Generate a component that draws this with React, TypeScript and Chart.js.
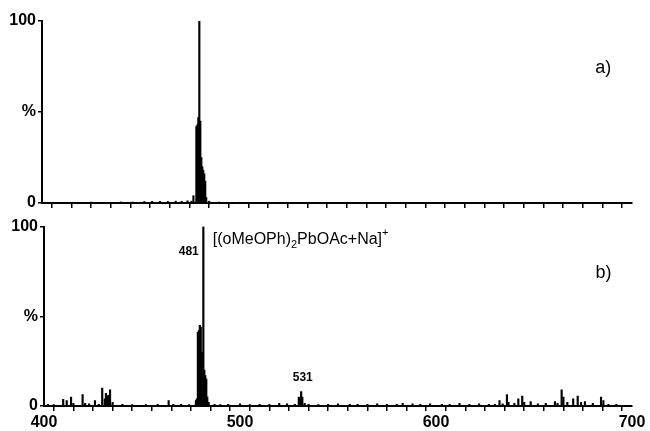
import React, { useEffect, useRef } from "react";
import Chart from "chart.js/auto";

// ---- data (m/z, relative intensity %) ----
const topMz = [410, 418, 425, 432, 440, 446, 452, 456, 460, 464, 468, 471, 474, 476, 477, 478.5, 479, 479.5, 480, 480.5, 481, 481.5, 482, 482.5, 483, 483.5, 485, 490, 500, 520, 540];
const topInt = [0.4, 0.4, 0.5, 0.4, 0.6, 0.5, 0.8, 0.9, 0.9, 0.8, 1.0, 0.9, 1.2, 1.0, 4, 42, 43, 47, 100, 45, 25, 20, 18, 16, 12, 3, 1, 0.5, 0.4, 0.4, 0.4];

const botMz = [402, 405, 409.8, 411.6, 413.8, 415, 419.7, 421, 423, 426, 428, 429.7, 431, 431.6, 432.2, 432.8, 433.7, 435, 440, 445, 452, 458, 463.6, 466, 470, 474, 477.5, 478, 478.5, 479, 479.5, 480, 480.5, 481.3, 481.8, 482.3, 482.8, 483.3, 484, 487, 490, 494, 500, 505, 510, 515, 520, 524, 528, 530, 530.5, 531.2, 531.8, 533, 535, 540, 545, 550, 556, 560, 565, 570, 575, 580, 583, 588, 592, 597, 603, 607, 612, 617, 622, 627, 630, 632.4, 634, 636.2, 637, 640, 642, 644, 645, 648.3, 652, 656, 660.7, 662, 664.1, 665, 667, 670, 672.3, 674, 676, 680, 684.2, 685.4, 688, 692];
const botInt = [1, 0.8, 3.7, 3, 5, 1.5, 6.4, 1.5, 1.2, 3, 1, 10, 4, 7, 5, 6, 9, 2, 1, 0.8, 0.8, 1, 3, 1, 1, 0.8, 3, 4, 41, 42, 45, 44, 30, 100, 20, 17, 15, 5, 2, 1, 0.8, 1, 1.2, 0.8, 1, 1, 1.5, 1.2, 1, 5, 4, 8, 5, 1.5, 1, 0.8, 1, 1.2, 1, 1, 1, 1.2, 1, 1, 1.5, 1.2, 1, 1.2, 1, 1, 1.5, 1, 1.2, 1, 1, 3, 1.2, 6.4, 2, 1.5, 4, 5.5, 2, 2.5, 1.2, 1.5, 2.5, 1.5, 9, 5, 2, 4, 5.5, 2, 2.5, 1.5, 5, 3, 1, 1];

const xTickLabels = [400, 500, 600, 700];
const yTickLabels: Record<number, string> = { 0: "0", 50: "%", 100: "100" };

const FONT = "'Liberation Sans', Arial, sans-serif";

type Note = { text: string; mz: number; pct: number; align: CanvasTextAlign; size: number; bold: boolean; dx: number };

function makeChart(
  canvas: HTMLCanvasElement,
  mz: number[],
  intensity: number[],
  opts: { yWidth: number; padTop: number; xHeight: number; showXLabels: boolean; notes: Note[]; formula: boolean }
) {
  const notesPlugin = {
    id: "notes",
    afterDraw(chart: any) {
      const ctx = chart.ctx as CanvasRenderingContext2D;
      const xs = chart.scales.x;
      const ys = chart.scales.y;
      ctx.save();
      ctx.fillStyle = "#000";
      ctx.textBaseline = "middle";
      for (const n of opts.notes) {
        ctx.font = `${n.bold ? "bold " : ""}${n.size}px ${FONT}`;
        ctx.textAlign = n.align;
        ctx.fillText(n.text, xs.getPixelForValue(n.mz) + n.dx, ys.getPixelForValue(n.pct));
      }
      if (opts.formula) {
        // [(oMeOPh)2PbOAc+Na]+ with subscript 2 and superscript +
        let x = xs.getPixelForValue(481) + 10;
        const y = ys.getPixelForValue(93);
        ctx.textAlign = "left";
        const main = `16px ${FONT}`;
        const small = `11px ${FONT}`;
        const parts: [string, string, number][] = [
          ["[(oMeOPh)", main, 0],
          ["2", small, 6],
          ["PbOAc+Na]", main, 0],
          ["+", small, -6],
        ];
        for (const [t, f, off] of parts) {
          ctx.font = f;
          ctx.fillText(t, x, y + off);
          x += ctx.measureText(t).width;
        }
      }
      ctx.restore();
    },
  };

  return new Chart(canvas, {
    type: "bar",
    data: {
      datasets: [
        {
          data: mz.map((m, i) => ({ x: m, y: intensity[i] })),
          backgroundColor: "#000",
          borderWidth: 0,
          barThickness: 1.5,
        },
      ],
    },
    options: {
      animation: false,
      responsive: false,
      maintainAspectRatio: false,
      layout: { padding: { left: 0, right: 18, top: opts.padTop, bottom: 0 } },
      plugins: { legend: { display: false }, tooltip: { enabled: false } },
      scales: {
        x: {
          type: "linear",
          min: 400,
          max: 700,
          offset: false,
          afterFit: (s: any) => {
            s.height = opts.xHeight;
          },
          ticks: {
            stepSize: 10,
            autoSkip: false,
            maxRotation: 0,
            padding: 2,
            color: "#000",
            font: { family: FONT, size: 16, weight: "bold" },
            callback: (v: any) => (opts.showXLabels && xTickLabels.includes(v) ? String(v) : ""),
          },
          grid: { drawOnChartArea: false, drawTicks: true, tickLength: 5, color: "#000", lineWidth: 1.5 },
          border: { color: "#000", width: 2 },
        },
        y: {
          min: 0,
          max: 100,
          afterFit: (s: any) => {
            s.width = opts.yWidth;
          },
          ticks: {
            stepSize: 50,
            padding: 2,
            color: "#000",
            font: { family: FONT, size: 16, weight: "bold" },
            callback: (v: any) => yTickLabels[v] ?? "",
          },
          grid: { drawOnChartArea: false, drawTicks: true, tickLength: 4, color: "#000", lineWidth: 1.5 },
          border: { color: "#000", width: 2 },
        },
      },
    },
    plugins: [notesPlugin],
  } as any);
}

export default function App() {
  const topRef = useRef<HTMLCanvasElement>(null);
  const botRef = useRef<HTMLCanvasElement>(null);

  useEffect(() => {
    const a = makeChart(topRef.current!, topMz, topInt, {
      yWidth: 42,
      padTop: 21,
      xHeight: 12,
      showXLabels: false,
      formula: false,
      notes: [{ text: "a)", mz: 660, pct: 74, align: "left", size: 18, bold: false, dx: 42 }],
    });
    const b = makeChart(botRef.current!, botMz, botInt, {
      yWidth: 44,
      padTop: 11,
      xHeight: 25,
      showXLabels: true,
      formula: true,
      notes: [
        { text: "481", mz: 481, pct: 86, align: "right", size: 12, bold: true, dx: -4 },
        { text: "531", mz: 531, pct: 16, align: "center", size: 12, bold: true, dx: 2 },
        { text: "b)", mz: 660, pct: 74, align: "left", size: 18, bold: false, dx: 42 },
      ],
    });
    return () => {
      a.destroy();
      b.destroy();
    };
  }, []);

  return (
    <div style={{ position: "absolute", left: 0, top: 0, width: 650, height: 431, background: "#fff" }}>
      <canvas ref={topRef} width={650} height={215} style={{ position: "absolute", left: 0, top: 0, width: 650, height: 215 }} />
      <canvas ref={botRef} width={650} height={216} style={{ position: "absolute", left: 0, top: 215, width: 650, height: 216 }} />
    </div>
  );
}
